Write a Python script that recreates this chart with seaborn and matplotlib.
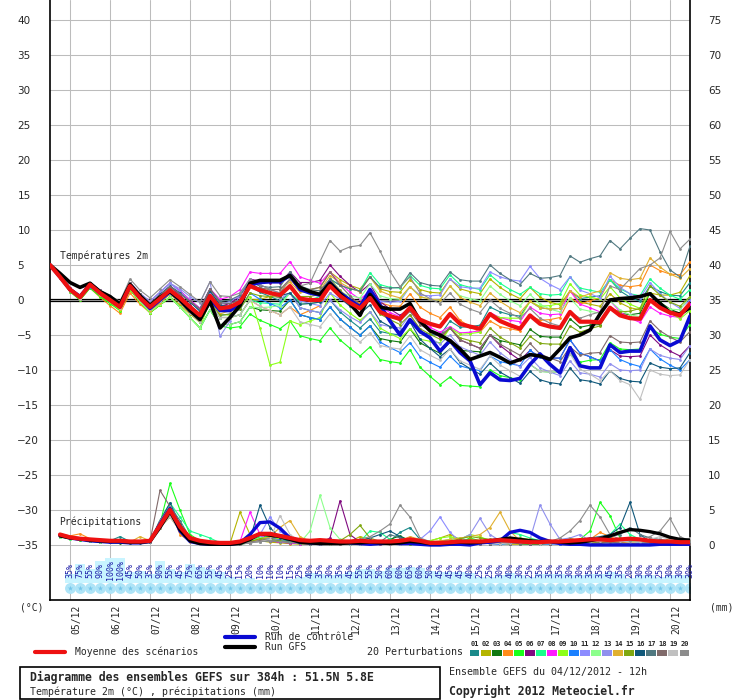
import numpy as np
import pandas as pd
import matplotlib
matplotlib.use('Agg')
import matplotlib.pyplot as plt
import matplotlib.transforms as mtrans
from matplotlib.lines import Line2D
from matplotlib.patches import Rectangle
import seaborn as sns

# ---- donnees lues sur le diagramme GEFS (pas de 6h, depart 04/12 12h) ----
temp_hours = list(range(0, 385, 6))
precip_hours = list(range(6, 385, 6))
pct_hours = list(range(12, 385, 6))
day_hours = list(range(12, 373, 24))
date_labels = ['05/12', '06/12', '07/12', '08/12', '09/12', '10/12', '11/12', '12/12',
               '13/12', '14/12', '15/12', '16/12', '17/12', '18/12', '19/12', '20/12']

mean_temp = [5.0, 3.3, 1.5, 0.4, 2.2, 1.0, 0.0, -1.0, 2.0, 0.3, -1.0, 0.2, 1.4, 0.3, -1.0, -2.2,
             0.6, -1.2, -1.0, -0.3, 2.0, 1.4, 1.0, 0.7, 2.0, 0.2, 0.0, 0.0, 2.0, 0.6, -0.4, -1.2,
             0.3, -1.7, -2.3, -2.7, -1.1, -2.8, -3.4, -3.8, -2.0, -3.4, -3.8, -4.1, -2.0, -3.0, -3.6, -4.1,
             -2.2, -3.4, -3.8, -4.0, -1.7, -3.1, -3.1, -3.2, -1.1, -2.2, -2.6, -2.7, 0.0, -1.1, -1.8, -2.2, -0.5]
control_temp = [5.0, 3.3, 1.5, 0.5, 2.2, 1.0, 0.0, -1.0, 2.0, 0.3, -1.2, 0.0, 1.2, 0.0, -1.5, -2.6,
                0.2, -1.5, -1.5, -0.5, 2.2, 2.5, 2.6, 2.6, 3.5, 1.5, 1.0, 0.7, 2.5, 1.0, 0.0, -1.0,
                1.5, -0.7, -3.0, -5.0, -2.8, -4.5, -5.4, -7.3, -5.8, -7.5, -8.7, -12.1, -10.4, -11.4, -11.5, -11.2,
                -9.2, -7.7, -9.2, -10.4, -6.8, -9.4, -9.7, -9.7, -6.4, -7.5, -7.3, -7.3, -3.7, -5.7, -6.5, -5.8, -2.3]
gfs_temp = [5.0, 3.8, 2.5, 1.8, 2.4, 1.2, 0.5, -0.6, 2.2, 0.6, -0.8, 0.4, 1.2, 0.0, -1.5, -2.8,
            -0.2, -4.0, -2.5, -0.8, 2.4, 2.8, 2.8, 2.8, 3.5, 1.8, 1.2, 0.8, 2.4, 0.9, -0.5, -2.2,
            0.8, -1.0, -1.3, -1.3, -0.5, -3.0, -4.4, -5.0, -5.8, -7.0, -8.5, -8.0, -7.5, -8.2, -9.0, -8.5,
            -7.8, -8.0, -8.5, -7.0, -5.4, -5.0, -4.3, -2.0, 0.0, 0.2, 0.3, 0.5, 0.9, -0.5, -1.8, -2.0, -1.1]

m01 = [5.0, 3.3, 1.5, 0.4, 2.2, 1.1, 0.3, -0.6, 2.5, 0.9, -0.2, 1.1, 2.4, 1.3, 0.0, -1.2, 1.6, -0.4, -0.5, 0.0, 2.0, 1.1, 0.5, -0.1, 1.0, -1.1, -1.5, -1.8, 0.0, -1.7, -2.9, -4.0, -2.7, -4.5, -4.8, -5.0, -3.1, -4.6, -4.9, -5.1, -3.0, -3.9, -3.8, -3.6, -1.0, -1.7, -2.1, -2.3, -0.2, -1.1, -1.3, -1.2, 1.3, 0.2, 0.4, 0.6, 2.9, 1.3, 0.4, -0.2, 2.0, 1.2, 0.7, 0.6, 2.5]
m02 = [5.0, 3.2, 1.3, 0.2, 1.9, 0.6, -0.4, -1.5, 1.5, -0.3, -1.8, -0.7, 0.4, -0.7, -2.0, -3.2, -0.4, -2.5, -2.5, -2.1, 0.0, 0.1, 0.5, 1.0, 3.0, 1.5, 1.5, 1.8, 4.0, 2.9, 2.1, 1.6, 3.3, 1.6, 1.2, 1.1, 2.9, 1.5, 1.1, 1.0, 3.0, 1.6, 1.2, 0.9, 3.0, 1.8, 0.9, 0.2, 1.8, 0.4, -0.3, -0.7, 1.3, -0.3, -0.6, -0.9, 0.9, -0.4, -1.1, -1.4, 1.0, 0.7, 0.7, 1.1, 3.5]
m03 = [5.0, 3.4, 1.6, 0.6, 2.4, 1.0, -0.2, -1.3, 1.5, -0.3, -1.8, -0.7, 0.4, -1.0, -2.5, -4.0, -1.4, -3.5, -3.5, -3.1, -1.0, -1.4, -1.5, -1.6, 0.0, -2.1, -2.5, -2.8, -1.0, -2.7, -3.9, -5.0, -3.7, -5.5, -5.8, -6.0, -4.1, -6.1, -6.9, -7.6, -6.0, -7.2, -7.3, -7.4, -5.0, -5.8, -6.1, -6.4, -4.2, -5.2, -5.3, -5.3, -2.7, -3.9, -3.6, -3.5, -1.1, -1.9, -2.1, -1.9, 1.0, -0.3, -1.3, -1.9, -0.5]
m04 = [5.0, 3.2, 1.2, 0.0, 1.7, 0.4, -0.8, -1.9, 1.0, -0.6, -1.8, -0.4, 0.9, -0.3, -1.8, -3.1, -0.4, -2.5, -2.5, -2.1, 0.0, -0.9, -1.5, -2.1, -1.0, -2.1, -1.5, -0.8, 2.0, 0.9, 0.1, -0.4, 1.3, -0.4, -0.8, -0.9, 0.9, -1.0, -1.9, -2.5, -1.0, -2.9, -3.8, -4.6, -3.0, -3.8, -4.1, -4.4, -2.2, -2.9, -2.8, -2.5, 0.3, -0.6, -0.1, 0.3, 2.9, 2.1, 1.9, 2.1, 5.0, 4.2, 3.7, 3.6, 5.5]
m05 = [5.0, 3.2, 1.2, 0.0, 1.7, 0.5, -0.5, -1.5, 1.5, -0.3, -1.8, -0.7, 0.4, -1.0, -2.5, -4.0, -1.4, -3.7, -4.0, -3.8, -2.0, -2.9, -3.5, -4.1, -3.0, -5.1, -5.5, -5.8, -4.0, -5.7, -6.9, -8.0, -6.7, -8.5, -8.8, -9.0, -7.1, -9.6, -10.9, -12.1, -11.0, -12.2, -12.3, -12.4, -10.0, -10.8, -11.1, -11.4, -9.2, -10.2, -10.3, -10.3, -7.7, -8.9, -8.6, -8.5, -6.1, -7.0, -7.1, -7.0, -4.0, -4.9, -5.3, -5.5, -3.5]
m06 = [5.0, 3.4, 1.7, 0.6, 2.5, 1.4, 0.4, -0.5, 2.5, 0.8, -0.5, 0.7, 1.9, 0.7, -0.7, -2.1, 0.6, -0.9, -0.5, 0.5, 3.0, 2.7, 2.5, 2.5, 4.0, 2.5, 2.5, 2.8, 5.0, 3.4, 2.1, 1.1, 2.3, -0.2, -1.3, -2.2, -1.1, -3.3, -4.4, -5.3, -4.0, -5.7, -6.3, -6.9, -5.0, -6.5, -7.6, -8.6, -7.2, -8.2, -8.3, -8.3, -5.7, -7.6, -8.1, -8.7, -7.1, -8.0, -8.1, -8.0, -5.0, -6.4, -7.3, -8.0, -6.5]
m07 = [5.0, 3.3, 1.5, 0.4, 2.2, 1.0, 0.0, -1.0, 2.0, 0.3, -1.0, 0.2, 1.4, 0.0, -1.5, -3.0, -0.4, -2.5, -2.5, -2.1, 0.0, -0.4, -0.5, -0.6, 1.0, -0.3, 0.0, 0.5, 3.0, 2.1, 1.6, 1.3, 3.9, 2.2, 1.8, 1.7, 3.5, 2.1, 1.7, 1.6, 3.6, 2.2, 1.8, 1.5, 3.6, 2.4, 1.5, 0.8, 1.8, 0.9, 0.7, 0.8, 3.3, 1.7, 1.4, 1.1, 2.9, 1.6, 0.9, 0.6, 3.0, 1.7, 0.7, 0.1, 1.5]
m08 = [5.0, 3.4, 1.7, 0.6, 2.5, 1.4, 0.4, -0.5, 2.5, 0.9, -0.2, 1.1, 2.4, 1.3, 0.0, -1.2, 1.6, 0.1, 0.5, 1.5, 4.0, 3.8, 3.8, 3.8, 5.5, 3.3, 2.8, 2.4, 4.0, 2.4, 1.1, 0.1, 1.3, -0.9, -1.8, -2.4, -1.1, -3.1, -3.9, -4.6, -3.8, -4.7, -4.6, -4.4, -1.8, -2.5, -2.9, -3.1, -1.0, -1.9, -2.1, -2.0, 1.3, -0.6, -1.1, -1.7, -0.1, -1.7, -2.6, -3.2, -1.0, -1.9, -2.3, -2.5, -0.5]
m09 = [5.0, 3.3, 1.5, 0.4, 2.2, 0.9, -0.3, -1.4, 1.5, -0.3, -1.8, -0.7, 0.4, -1.0, -2.5, -4.0, 0.0, -2.0, -2.2, -1.0, 0.5, -4.0, -9.3, -8.9, -3.0, -3.5, -3.0, -2.5, 1.0, -0.7, -1.9, -2.9, -1.7, -4.0, -4.8, -5.5, -4.1, -5.6, -5.9, -6.1, -4.0, -4.9, -4.8, -4.6, -2.0, -2.5, -2.6, -2.6, -0.2, -0.9, -0.8, -0.5, 2.3, 0.7, 0.4, 0.1, 1.9, 0.3, -0.6, -1.2, 1.0, -0.6, -1.8, -2.7, -1.5]
m10 = [5.0, 3.2, 1.3, 0.2, 1.9, 0.8, -0.2, -1.1, 2.0, 0.2, -1.3, -0.2, 0.9, -0.3, -1.8, -3.1, -0.4, -2.2, -2.0, -1.3, 1.0, 0.1, -0.5, -1.1, 0.0, -2.1, -2.5, -2.8, -1.0, -2.7, -3.9, -5.0, -3.7, -6.0, -6.8, -7.5, -6.1, -8.1, -8.9, -9.6, -8.0, -9.4, -9.8, -10.1, -8.0, -8.8, -9.1, -9.4, -7.2, -8.2, -8.3, -8.3, -5.7, -7.6, -8.1, -8.7, -7.1, -8.5, -9.1, -9.5, -7.0, -8.4, -9.3, -10.0, -8.5]
m11 = [5.0, 3.3, 1.5, 0.4, 2.2, 1.1, 0.3, -0.6, 2.5, 0.9, -0.2, 1.1, 2.4, 1.2, -0.2, -1.6, 1.1, -0.6, -0.2, 0.6, 3.0, 2.2, 1.5, 1.0, 2.0, -0.1, -0.5, -0.8, 1.0, 0.1, -0.4, -0.7, 1.3, -0.2, -0.3, -0.2, 1.9, 0.7, 0.6, 0.7, 3.0, 1.9, 1.7, 1.7, 4.0, 3.3, 2.9, 2.7, 4.8, 3.1, 2.2, 1.5, 3.3, 1.4, 0.9, 0.3, 3.4, 1.8, 0.9, 0.3, 2.5, 0.9, -0.3, -1.2, 0.0]
m12 = [5.0, 3.3, 1.5, 0.4, 2.2, 0.9, -0.2, -1.2, 1.7, -0.2, -1.7, -0.6, 0.4, -1.0, -2.5, -4.0, -1.4, -3.5, -3.5, -3.1, -1.0, -1.1, -1.0, -0.8, 1.0, -0.6, -0.5, -0.3, 2.0, 1.1, 0.6, 0.3, 2.3, 0.6, 0.2, 0.1, 1.9, 0.5, 0.1, 0.0, 2.0, 0.6, 0.2, -0.1, 2.0, 0.8, -0.1, -0.8, 0.8, -0.6, -1.3, -1.7, 0.3, -1.3, -1.6, -1.9, -0.1, -1.4, -2.1, -2.4, 0.0, -0.8, -1.3, -1.4, 0.5]
m13 = [5.0, 3.4, 1.6, 0.6, 2.4, 1.3, 0.4, -0.6, 2.5, 0.9, -0.2, 1.1, 2.4, 1.6, 0.5, -0.4, 2.6, -5.2, -3.0, 1.0, 3.0, 1.9, 1.0, 0.2, 1.0, -1.1, -1.5, -1.8, 0.0, -1.4, -2.4, -3.2, -1.7, -3.5, -3.8, -4.0, -2.1, -4.3, -5.4, -6.3, -5.0, -6.7, -7.3, -7.9, -6.0, -7.5, -8.6, -9.6, -8.2, -9.7, -10.3, -10.8, -8.7, -10.4, -10.6, -11.0, -9.1, -10.0, -10.1, -10.0, -7.0, -7.9, -8.3, -8.5, -6.5]
m14 = [5.0, 3.2, 1.3, 0.2, 2.0, 0.7, -0.2, -1.3, 1.7, 0.0, -1.5, -0.4, 0.8, -0.4, -1.7, -2.9, -0.4, -2.0, -1.5, -0.6, 2.0, 1.7, 1.5, 1.5, 2.6, 1.1, 1.2, 1.4, 3.5, 2.5, 1.7, 1.2, 3.3, 1.3, 0.7, 0.3, 1.9, 0.5, 0.1, 0.0, 2.0, 0.4, -0.3, -0.8, 1.0, -0.2, -1.1, -1.8, -0.2, -1.1, -1.3, -1.2, 1.3, 0.4, 0.9, 1.3, 3.9, 3.1, 2.9, 3.1, 6.0, 4.7, 3.7, 3.1, 4.5]
m15 = [5.0, 3.3, 1.5, 0.4, 2.2, 1.0, 0.0, -1.0, 2.0, 0.2, -1.3, -0.2, 0.9, -0.3, -1.8, -3.1, -0.4, -2.2, -2.0, -1.3, 1.0, 0.6, 0.5, 0.4, 2.0, 0.5, 0.5, 0.8, 3.0, 1.4, 0.1, -0.9, 0.3, -2.0, -2.8, -3.5, -2.1, -4.1, -4.9, -5.6, -4.0, -5.4, -5.8, -6.1, -4.0, -5.3, -6.1, -6.9, -5.2, -6.2, -6.3, -6.3, -3.7, -4.6, -4.1, -3.7, -1.1, -1.7, -1.6, -1.2, 2.0, 0.7, -0.3, -0.9, 0.5]
m16 = [5.0, 3.3, 1.5, 0.4, 2.3, 1.2, 0.2, -0.8, 2.3, 0.6, -0.6, 0.8, 2.0, 1.0, -0.3, -1.6, 1.3, -0.7, -0.9, -0.4, 2.4, 1.6, 1.2, 0.6, 1.0, -0.6, -0.5, -0.3, 2.0, 0.3, -0.9, -2.0, -0.7, -3.0, -3.8, -4.5, -3.1, -5.6, -6.9, -8.1, -7.0, -8.9, -9.8, -10.6, -9.0, -10.3, -11.1, -11.9, -10.2, -11.4, -11.8, -12.0, -9.7, -11.4, -11.6, -12.0, -10.1, -11.2, -11.6, -11.7, -9.0, -9.6, -9.8, -9.7, -7.5]
m17 = [5.0, 3.4, 1.7, 0.6, 2.5, 1.4, 0.4, -0.5, 2.5, 0.8, -0.5, 0.7, 1.9, 0.9, -0.2, -1.3, 1.6, -0.2, 0.0, 0.7, 2.6, 2.0, 1.8, 1.9, 4.0, 2.0, 1.5, 1.3, 3.0, 2.1, 1.6, 1.3, 3.3, 1.8, 1.7, 1.8, 3.9, 2.5, 2.1, 2.0, 4.0, 2.9, 2.7, 2.7, 5.0, 3.8, 2.9, 2.2, 3.8, 3.1, 3.2, 3.5, 6.3, 5.4, 5.9, 6.3, 8.5, 7.3, 8.8, 10.2, 10.0, 6.9, 4.3, 3.3, 7.7]
m18 = [5.0, 3.3, 1.5, 0.4, 2.2, 1.1, 0.3, -0.6, 2.5, 0.8, -0.5, 0.7, 1.9, 0.9, -0.2, -1.3, 1.6, -0.4, -0.5, 0.0, 2.0, 1.7, 1.5, 1.5, 3.0, 1.5, 1.5, 1.8, 4.0, 2.1, 0.6, -0.7, 0.8, -1.5, -2.2, -3.0, -1.6, -3.5, -4.4, -5.0, -4.0, -5.7, -6.3, -6.9, -5.0, -6.3, -7.1, -7.9, -6.2, -7.7, -8.3, -8.8, -6.7, -7.9, -7.6, -7.5, -5.1, -6.0, -6.1, -6.0, -3.0, -4.4, -5.3, -6.0, -4.5]
m19 = [5.0, 3.2, 1.4, 0.2, 2.0, 0.8, -0.1, -1.1, 2.0, 0.2, -1.3, -0.2, 0.9, -0.3, -1.8, -3.1, -0.4, -2.5, -2.5, -2.1, 0.0, -0.9, -1.5, -2.1, -1.0, -3.1, -3.5, -3.8, -2.0, -3.7, -4.9, -6.0, -4.7, -6.5, -6.8, -7.0, -5.1, -7.1, -7.9, -8.6, -7.0, -8.7, -9.3, -9.9, -8.0, -9.3, -10.1, -10.9, -9.2, -10.2, -10.3, -10.3, -7.7, -9.9, -10.6, -11.5, -10.1, -11.5, -12.1, -14.2, -10.0, -10.6, -10.8, -10.7, -8.5]
m20 = [5.0, 3.4, 1.6, 0.6, 2.4, 1.4, 0.6, -0.2, 3.0, 1.4, 0.3, 1.6, 2.9, 1.9, 0.8, -0.3, 2.6, 0.6, 0.5, 1.0, 3.0, 2.2, 1.5, 1.0, 3.0, 2.0, 2.4, 5.5, 8.5, 7.0, 7.6, 7.8, 9.6, 7.0, 4.1, 1.9, 3.3, 1.0, 0.2, -0.5, 1.0, -0.6, -1.3, -1.8, 0.0, -1.2, -1.9, -2.6, -1.2, -2.6, -3.3, -3.7, -1.7, -2.6, -2.1, -1.7, 2.0, 1.5, 3.0, 4.5, 5.0, 6.0, 9.8, 7.3, 8.7]

# precipitations (mm), de 6h a 384h
mean_precip = [1.5, 1.1, 0.9, 0.8, 0.7, 0.6, 0.6, 0.5, 0.5, 0.6, 2.8, 5.0, 2.6, 1.0, 0.6, 0.4, 0.3, 0.3,
               0.5, 1.0, 1.6, 1.6, 1.3, 1.0, 0.7, 0.6, 0.7, 0.6, 0.5, 0.5, 0.6, 0.5, 0.5, 0.5, 0.6, 0.8,
               0.6, 0.3, 0.3, 0.4, 0.5, 0.5, 0.5, 0.6, 0.7, 0.6, 0.5, 0.4, 0.4, 0.5, 0.5, 0.6, 0.7, 0.8,
               0.8, 0.7, 0.8, 0.9, 0.8, 0.6, 0.5, 0.5, 0.4, 0.4]
control_precip = [1.4, 1.0, 0.8, 0.6, 0.5, 0.4, 0.4, 0.3, 0.3, 0.5, 3.0, 5.2, 2.0, 0.5, 0.2, 0.1, 0.1, 0.1,
                  0.3, 1.5, 3.2, 3.3, 2.4, 1.0, 0.4, 0.3, 0.2, 0.3, 0.4, 0.3, 0.2, 0.1, 0.2, 0.3, 0.2, 0.2,
                  0.1, 0.0, 0.0, 0.1, 0.1, 0.0, 0.3, 0.4, 0.6, 1.8, 2.1, 1.8, 1.0, 0.5, 0.2, 0.1, 0.1, 0.0,
                  0.0, 0.0, 0.0, 0.0, 0.0, 0.0, 0.1, 0.1, 0.1, 0.1]
gfs_precip = [1.3, 1.0, 0.9, 0.7, 0.6, 0.5, 0.5, 0.4, 0.4, 0.5, 2.5, 4.8, 2.2, 0.6, 0.2, 0.1, 0.1, 0.1,
              0.2, 0.8, 1.6, 1.4, 1.2, 0.8, 0.4, 0.3, 0.2, 0.2, 0.2, 0.3, 0.3, 0.4, 0.3, 0.2, 0.3, 0.5,
              0.4, 0.2, 0.2, 0.3, 0.4, 0.3, 0.4, 0.6, 0.8, 1.0, 0.8, 0.6, 0.5, 0.5, 0.4, 0.3, 0.4, 0.6,
              0.9, 1.3, 1.8, 2.2, 2.1, 1.9, 1.6, 1.1, 0.8, 0.7]

p01 = [1.4, 1.0, 0.9, 0.8, 0.7, 0.6, 1.2, 0.5, 0.4, 0.5, 3.5, 5.5, 2.5, 0.8, 0.4, 0.2, 0.1, 0.1, 0.3, 0.8, 1.5, 1.2, 0.8, 0.5, 0.3, 0.2, 0.2, 0.3, 0.2, 0.4, 0.3, 0.2, 0.4, 0.6, 1.8, 2.5, 0.8, 0.3, 0.2, 0.2, 0.3, 0.5, 0.6, 0.4, 0.3, 0.2, 0.4, 0.6, 0.5, 0.3, 0.2, 0.2, 0.4, 0.8, 1.0, 0.6, 0.4, 0.3, 0.5, 0.6, 0.4, 0.3, 0.2, 0.2]
p02 = [1.2, 0.9, 0.8, 0.6, 0.5, 0.4, 0.4, 0.3, 0.6, 0.4, 2.5, 4.5, 2.0, 0.6, 0.3, 0.2, 0.1, 0.2, 4.7, 1.5, 0.6, 0.4, 0.3, 0.2, 0.1, 0.1, 0.2, 0.3, 0.4, 0.5, 1.2, 0.8, 0.3, 0.2, 0.1, 0.1, 0.2, 0.6, 1.0, 1.5, 0.8, 0.4, 0.3, 0.2, 0.2, 0.1, 0.1, 0.2, 0.3, 0.2, 0.6, 1.0, 0.5, 0.3, 0.2, 0.4, 0.8, 0.6, 0.4, 0.3, 0.2, 1.0, 0.6, 0.4]
p03 = [1.5, 1.1, 0.7, 0.6, 0.5, 0.4, 0.3, 0.3, 0.3, 0.4, 3.0, 4.0, 3.0, 1.2, 0.5, 0.2, 0.1, 0.1, 0.1, 0.3, 1.0, 1.5, 1.0, 0.6, 0.3, 0.2, 0.2, 0.1, 0.2, 0.1, 0.1, 0.2, 0.3, 0.8, 1.3, 0.6, 0.3, 0.1, 0.1, 0.2, 0.4, 0.3, 0.2, 0.5, 0.7, 0.4, 0.2, 0.1, 0.1, 0.2, 0.3, 0.6, 0.4, 1.0, 0.5, 0.3, 0.2, 0.2, 0.1, 0.1, 0.3, 0.2, 0.1, 0.1]
p04 = [1.6, 1.3, 1.6, 0.9, 0.6, 0.5, 0.4, 0.4, 0.5, 0.6, 3.5, 5.0, 1.5, 0.5, 0.3, 0.2, 0.1, 0.1, 0.2, 0.4, 0.6, 1.0, 0.8, 0.5, 0.3, 0.2, 0.2, 0.3, 0.2, 0.1, 0.4, 0.3, 0.2, 0.2, 0.4, 0.3, 0.2, 0.2, 0.3, 0.4, 0.6, 0.8, 0.5, 0.3, 0.2, 0.5, 0.6, 0.3, 0.2, 0.2, 0.3, 0.5, 0.6, 0.8, 1.8, 1.2, 0.6, 0.3, 0.2, 0.3, 0.4, 0.3, 0.2, 0.2]
p05 = [1.3, 1.0, 0.7, 0.6, 0.5, 0.4, 0.4, 0.4, 0.4, 0.5, 3.0, 8.8, 5.0, 1.5, 0.6, 0.3, 0.1, 0.1, 0.2, 0.5, 1.2, 1.0, 0.6, 0.4, 0.2, 0.2, 0.3, 0.4, 0.3, 0.2, 0.2, 0.4, 0.5, 0.3, 0.3, 0.2, 0.1, 0.2, 0.3, 0.2, 0.4, 1.0, 0.6, 0.3, 0.2, 0.3, 0.2, 0.1, 0.2, 0.3, 0.4, 0.5, 0.8, 2.0, 6.1, 4.2, 1.0, 0.5, 0.4, 0.3, 0.2, 0.3, 0.2, 0.2]
p06 = [1.3, 1.0, 0.8, 0.7, 0.6, 0.5, 0.5, 0.4, 0.4, 0.5, 3.0, 5.0, 2.0, 0.7, 0.3, 0.2, 0.1, 0.1, 0.2, 0.3, 0.8, 0.6, 0.4, 0.3, 0.2, 0.2, 0.3, 1.0, 6.3, 1.5, 0.4, 0.3, 0.2, 0.3, 0.4, 0.3, 0.2, 0.2, 0.2, 0.3, 0.2, 0.4, 0.3, 0.2, 0.2, 0.3, 0.2, 0.2, 0.3, 0.2, 0.2, 0.4, 0.3, 0.6, 0.4, 0.3, 0.5, 0.4, 0.3, 0.2, 0.3, 0.4, 0.3, 0.2]
p07 = [1.2, 0.9, 0.8, 0.7, 0.6, 0.5, 0.5, 0.4, 0.4, 0.5, 3.5, 6.0, 4.0, 2.0, 1.5, 1.0, 0.3, 0.2, 0.3, 0.5, 0.8, 1.5, 1.2, 0.8, 0.5, 0.3, 0.2, 0.2, 0.3, 0.4, 0.5, 2.0, 1.8, 0.8, 0.4, 0.3, 0.2, 0.3, 0.5, 0.8, 1.0, 0.6, 0.5, 0.4, 0.3, 1.8, 1.5, 1.0, 0.6, 0.4, 0.3, 0.5, 0.8, 0.6, 0.4, 1.5, 3.0, 1.5, 0.8, 0.5, 0.4, 0.3, 0.2, 0.2]
p08 = [1.3, 1.0, 0.8, 0.7, 0.6, 0.5, 0.4, 0.4, 0.4, 0.5, 2.8, 4.8, 2.2, 0.8, 0.3, 0.2, 0.1, 0.2, 0.5, 4.7, 1.5, 0.6, 0.4, 0.3, 0.2, 0.2, 0.3, 0.3, 0.4, 0.3, 0.2, 0.2, 0.3, 0.3, 0.4, 0.5, 0.3, 0.2, 0.2, 0.3, 0.4, 0.3, 0.2, 0.3, 0.4, 0.3, 0.2, 0.3, 0.4, 0.3, 0.5, 0.6, 0.8, 1.0, 0.6, 0.4, 0.3, 0.2, 0.3, 0.4, 0.3, 0.2, 0.2, 0.1]
p09 = [1.4, 1.1, 0.9, 0.7, 0.6, 0.5, 0.5, 0.5, 0.5, 0.6, 3.2, 5.2, 2.5, 1.0, 0.4, 0.3, 0.2, 0.2, 0.4, 0.6, 0.9, 1.2, 0.8, 0.5, 0.3, 0.2, 0.2, 0.3, 0.4, 0.3, 0.2, 0.3, 0.5, 0.4, 0.3, 0.2, 0.4, 0.6, 1.0, 1.2, 0.8, 1.5, 1.2, 0.6, 0.4, 0.3, 0.2, 0.3, 0.4, 0.3, 0.3, 0.4, 0.6, 0.5, 0.4, 0.3, 0.4, 0.5, 0.4, 0.3, 0.3, 0.2, 0.2, 0.2]
p10 = [1.3, 1.0, 0.8, 0.7, 0.6, 0.5, 0.5, 0.4, 0.4, 0.5, 3.0, 5.0, 2.8, 0.9, 0.3, 0.2, 0.1, 0.1, 0.2, 0.4, 0.8, 1.0, 0.7, 0.4, 0.3, 0.2, 0.2, 0.2, 0.3, 0.2, 0.2, 0.3, 0.4, 0.3, 0.2, 0.3, 0.2, 0.1, 0.1, 0.2, 0.1, 0.2, 0.3, 0.2, 0.1, 0.2, 0.3, 0.2, 0.2, 0.1, 0.2, 0.3, 0.2, 0.5, 0.6, 0.8, 0.5, 0.3, 0.2, 0.1, 0.1, 0.2, 0.1, 0.1]
p11 = [1.3, 1.0, 0.8, 0.7, 0.6, 0.5, 0.5, 0.4, 0.4, 0.5, 2.6, 4.5, 2.5, 0.9, 0.3, 0.2, 0.1, 0.2, 0.3, 0.5, 1.5, 4.0, 2.0, 0.8, 0.4, 0.3, 0.2, 0.3, 0.2, 0.3, 0.4, 0.3, 0.3, 0.2, 0.3, 0.5, 0.8, 2.0, 4.0, 1.8, 0.5, 0.4, 0.6, 0.8, 0.6, 0.4, 0.3, 0.2, 0.3, 0.4, 0.5, 0.4, 0.3, 0.2, 0.3, 0.5, 0.6, 0.4, 0.3, 0.2, 0.2, 0.3, 0.2, 0.2]
p12 = [1.2, 1.0, 0.8, 0.6, 0.5, 0.5, 0.4, 0.4, 0.4, 0.5, 2.8, 5.5, 2.5, 0.8, 0.3, 0.2, 0.2, 0.2, 0.3, 0.6, 1.0, 0.8, 0.5, 0.4, 0.3, 2.0, 7.1, 2.5, 0.8, 0.5, 0.4, 0.3, 0.4, 0.5, 0.4, 0.3, 0.2, 0.3, 0.4, 0.5, 0.6, 0.4, 0.3, 0.3, 0.4, 0.6, 0.5, 0.4, 0.3, 0.4, 0.5, 0.6, 0.4, 0.3, 0.5, 0.6, 0.4, 0.3, 0.3, 0.4, 0.3, 0.2, 0.2, 0.3]
p13 = [1.3, 1.0, 0.8, 0.7, 0.6, 0.5, 0.5, 0.4, 0.4, 0.5, 3.0, 5.5, 2.8, 0.8, 0.3, 0.2, 0.1, 0.1, 0.2, 0.4, 0.8, 1.0, 0.6, 0.4, 0.3, 0.2, 0.2, 0.3, 0.3, 0.4, 0.3, 0.2, 0.3, 0.4, 0.3, 0.4, 0.5, 0.4, 0.3, 0.4, 0.8, 1.5, 3.8, 1.5, 0.6, 0.4, 0.5, 0.8, 5.7, 3.0, 0.8, 1.0, 1.5, 0.6, 0.4, 0.3, 0.3, 0.2, 0.3, 0.4, 0.3, 0.2, 0.3, 0.2]
p14 = [1.3, 1.1, 0.9, 0.8, 0.6, 0.5, 0.5, 0.4, 1.2, 0.6, 2.5, 4.0, 2.0, 0.8, 0.3, 0.2, 0.1, 0.2, 0.3, 0.5, 0.8, 1.2, 2.5, 3.5, 1.2, 0.5, 0.3, 0.2, 0.3, 0.4, 0.5, 0.4, 0.3, 0.5, 0.6, 1.2, 0.8, 0.5, 0.6, 0.8, 1.0, 1.2, 1.5, 2.5, 4.7, 2.0, 0.6, 0.4, 0.3, 0.4, 0.5, 0.6, 0.5, 0.4, 0.6, 0.5, 0.4, 0.3, 0.6, 0.8, 0.5, 0.4, 0.3, 0.6]
p15 = [1.3, 1.0, 0.8, 0.7, 0.6, 0.5, 0.5, 0.4, 0.4, 0.5, 3.0, 5.0, 2.5, 0.8, 0.3, 0.2, 0.1, 0.1, 0.3, 0.5, 0.9, 0.8, 0.6, 0.4, 0.3, 0.2, 0.3, 0.4, 0.6, 1.5, 2.8, 1.0, 0.5, 0.4, 0.3, 0.2, 0.3, 0.2, 0.3, 0.5, 0.9, 1.2, 1.0, 0.8, 0.6, 0.5, 1.0, 0.8, 0.5, 0.4, 0.6, 0.8, 0.6, 0.4, 0.3, 0.5, 0.8, 0.6, 0.5, 0.4, 0.3, 0.3, 0.2, 0.2]
p16 = [1.3, 1.0, 0.8, 0.7, 0.6, 0.5, 0.5, 0.4, 0.4, 0.5, 3.5, 6.0, 3.0, 0.8, 0.3, 0.2, 0.1, 0.2, 0.4, 0.8, 5.7, 2.5, 1.0, 0.5, 0.3, 0.2, 0.2, 0.3, 0.3, 0.4, 0.6, 1.0, 1.5, 2.0, 1.2, 0.5, 0.3, 0.2, 0.3, 0.2, 0.3, 0.4, 0.3, 0.2, 0.3, 0.4, 0.3, 0.2, 0.3, 0.4, 0.5, 0.6, 0.8, 1.0, 1.2, 1.5, 2.5, 6.1, 1.5, 0.5, 0.3, 0.2, 0.2, 0.2]
p17 = [1.3, 1.0, 0.8, 0.7, 0.6, 0.5, 0.5, 0.4, 0.4, 0.5, 3.2, 5.5, 3.5, 1.0, 0.4, 0.2, 0.1, 0.1, 0.2, 0.3, 0.5, 0.6, 0.5, 0.4, 0.3, 0.2, 0.2, 0.3, 0.4, 0.3, 0.2, 0.3, 0.4, 1.5, 1.0, 0.6, 0.4, 0.3, 0.2, 0.3, 0.4, 0.3, 0.2, 0.3, 0.4, 0.3, 0.2, 0.2, 0.3, 0.4, 0.3, 0.4, 0.5, 0.6, 0.8, 1.2, 1.5, 2.5, 1.5, 1.0, 0.8, 0.6, 0.4, 0.3]
p18 = [1.4, 1.1, 0.8, 0.7, 0.6, 0.5, 0.5, 0.4, 0.4, 0.5, 7.8, 5.5, 2.0, 0.6, 0.3, 0.2, 0.1, 0.1, 0.2, 0.4, 0.6, 0.8, 1.5, 1.2, 0.6, 0.3, 0.2, 0.3, 0.2, 0.3, 0.4, 0.3, 0.2, 0.3, 0.4, 0.3, 0.2, 0.2, 0.3, 0.2, 0.3, 0.4, 0.3, 0.2, 0.3, 0.2, 0.3, 0.2, 0.3, 0.2, 0.3, 0.4, 0.3, 0.2, 0.3, 0.4, 0.3, 0.2, 0.2, 0.3, 0.2, 0.2, 0.1, 0.1]
p19 = [1.3, 1.0, 0.8, 0.7, 0.6, 0.5, 0.5, 0.4, 0.4, 0.5, 2.5, 4.0, 2.0, 0.6, 0.3, 0.2, 0.1, 0.1, 0.2, 0.3, 0.5, 0.8, 4.2, 1.5, 0.5, 0.3, 0.2, 0.2, 0.3, 0.2, 0.2, 0.3, 0.4, 0.3, 0.2, 0.3, 0.4, 0.3, 0.2, 0.3, 0.4, 0.5, 0.4, 0.3, 0.2, 0.3, 0.4, 0.3, 0.2, 0.3, 0.4, 0.6, 0.5, 0.4, 0.6, 0.8, 0.6, 0.4, 0.5, 0.8, 1.2, 0.8, 0.5, 1.0]
p20 = [1.3, 1.0, 0.8, 0.7, 0.6, 0.5, 0.5, 0.4, 0.4, 0.5, 3.5, 5.5, 2.5, 0.8, 0.3, 0.2, 0.1, 0.1, 0.2, 0.3, 0.5, 0.6, 0.5, 0.4, 0.3, 0.2, 0.3, 0.4, 0.5, 0.6, 0.8, 1.2, 2.0, 3.0, 5.7, 4.0, 1.0, 0.5, 0.4, 0.3, 0.4, 0.5, 0.4, 0.3, 0.4, 0.5, 0.4, 0.3, 0.4, 0.5, 1.0, 2.0, 3.5, 5.7, 4.0, 1.5, 0.8, 0.6, 0.8, 1.2, 2.0, 3.8, 1.2, 0.6]

# probabilite de precipitations (%)
rain_pct = [35, 75, 55, 90, 100, 100, 45, 50, 35, 90, 55, 45, 75, 65, 55, 45, 25, 15, 20, 10, 10,
            10, 15, 25, 40, 35, 30, 35, 45, 55, 55, 50, 60, 60, 65, 60, 50, 45, 45, 45, 40, 25,
            25, 30, 40, 30, 25, 35, 35, 35, 30, 30, 35, 35, 45, 35, 20, 30, 30, 25, 30, 30, 30]

member_ids = ['%02d' % k for k in range(1, 21)]
member_colors = ['#1a8a8a', '#b4b400', '#107810', '#ff8c1a', '#1aff1a', '#800a80', '#1aff8c',
                 '#ff1aff', '#8cff1a', '#1a80ff', '#8c8cff', '#8cff8c', '#9090ee', '#e0b030',
                 '#80a810', '#10587a', '#507880', '#806a6a', '#c0c0c0', '#8c8c8c']
members_temp = [m01, m02, m03, m04, m05, m06, m07, m08, m09, m10,
                m11, m12, m13, m14, m15, m16, m17, m18, m19, m20]
members_precip = [p01, p02, p03, p04, p05, p06, p07, p08, p09, p10,
                  p11, p12, p13, p14, p15, p16, p17, p18, p19, p20]

PRECIP_SHIFT = -35   # l'axe mm (droite) = axe °C + 35

rows_t, rows_p = [], []
for mid, tv, pv in zip(member_ids, members_temp, members_precip):
    for h, v in zip(temp_hours, tv):
        rows_t.append((mid, h, v))
    for h, v in zip(precip_hours, pv):
        rows_p.append((mid, h, v + PRECIP_SHIFT))
df_t = pd.DataFrame(rows_t, columns=['member', 'hour', 'value'])
df_p = pd.DataFrame(rows_p, columns=['member', 'hour', 'value'])
palette = dict(zip(member_ids, member_colors))

# ---- figure ----
sns.set_style('white')
plt.rcParams['font.family'] = ['DejaVu Sans']
MONO = 'DejaVu Sans Mono'
W, H = 739, 700
fig = plt.figure(figsize=(W / 100, H / 100), dpi=100)
fig.patch.set_facecolor('white')


def fx(px):
    return px / W


def fy(py):
    return 1 - py / H


ax = fig.add_axes([fx(50), fy(600), fx(690) - fx(50), fy(0) - fy(600)])
lo, hi = -300 / 7, 300 / 7
ax.set_xlim(0, 384)
ax.set_ylim(lo, hi)
ax.set_yticks(range(-35, 41, 5))
ax.set_xticks(day_hours)
ax.set_xticklabels(date_labels, rotation=90, family=MONO, fontsize=7)
ax.grid(True, color='#bcbcbc', lw=0.75)
ax.set_axisbelow(True)
for s in ['left', 'right', 'bottom']:
    ax.spines[s].set_color('black')
    ax.spines[s].set_linewidth(1.2)
ax.spines['top'].set_visible(False)
ax.tick_params(axis='y', length=0, pad=23.5, labelsize=7.5)
for lab in ax.get_yticklabels():
    lab.set_horizontalalignment('left')
ax.tick_params(axis='x', length=2.5, color='#bcbcbc', width=0.75, pad=0.5)
shift = mtrans.ScaledTranslation(6 / 100, 0, fig.dpi_scale_trans)
for lab in ax.get_xticklabels():
    lab.set_transform(lab.get_transform() + shift)

ax2 = ax.twinx()
ax2.set_ylim(lo - PRECIP_SHIFT, hi - PRECIP_SHIFT)
ax2.set_yticks(range(0, 76, 5))
ax2.tick_params(axis='y', length=0, pad=13, labelsize=7.5)
for s in ax2.spines.values():
    s.set_visible(False)

# bande des probabilites
ax.bar(pct_hours, np.array(rain_pct) * 3.5 / 100, bottom=-40.4, width=6,
       color='#c8f4ff', lw=0, zorder=1)
for h, p in zip(pct_hours, rain_pct):
    ax.text(h, -38.6, '%d%%' % p, rotation=90, ha='center', va='center',
            fontsize=6, family=MONO, color='#1c1ca8', zorder=3)
ax.scatter(pct_hours, [-41.1] * len(pct_hours), marker='o', s=62, color='#aee4f7', lw=0, zorder=2)
ax.scatter(pct_hours, [-41.1] * len(pct_hours), marker='*', s=16, color='#74c6ea', lw=0, zorder=2)

# double ligne 0°C
ax.axhline(0.15, color='black', lw=0.9, zorder=2.5)
ax.axhline(-0.2, color='black', lw=0.9, zorder=2.5)

# perturbations
for df in (df_t, df_p):
    sns.lineplot(data=df, x='hour', y='value', hue='member', palette=palette,
                 estimator=None, legend=False, sort=False, lw=0.8, marker='o',
                 markersize=2, markeredgewidth=0, ax=ax, zorder=3)

# runs principaux
sns.lineplot(x=temp_hours, y=control_temp, color='#0a0ad2', lw=2.6, ax=ax, zorder=5)
sns.lineplot(x=temp_hours, y=gfs_temp, color='black', lw=2.6, ax=ax, zorder=5)
sns.lineplot(x=temp_hours, y=mean_temp, color='#ee1111', lw=3.0, ax=ax, zorder=6)
sns.lineplot(x=precip_hours, y=np.array(control_precip) + PRECIP_SHIFT, color='#0a0ad2', lw=2.4, ax=ax, zorder=5)
sns.lineplot(x=precip_hours, y=np.array(gfs_precip) + PRECIP_SHIFT, color='black', lw=2.4, ax=ax, zorder=5)
sns.lineplot(x=precip_hours, y=np.array(mean_precip) + PRECIP_SHIFT, color='#ee1111', lw=3.0, ax=ax, zorder=6)

ax.set_xlabel('')
ax.set_ylabel('')
ax.text(6, 6.3, 'Températures 2m', family=MONO, fontsize=7, va='center', zorder=7)
ax.text(5.4, -31.7, 'Précipitations', family=MONO, fontsize=7, va='center', zorder=7)

fig.text(fx(20), fy(607), '(°C)', family=MONO, fontsize=7, va='center')
fig.text(fx(710), fy(607), '(mm)', family=MONO, fontsize=7, va='center')

# legende
fig.add_artist(Line2D([fx(35), fx(65)], [fy(652), fy(652)], color='#ee1111', lw=3))
fig.text(fx(75), fy(652), 'Moyenne des scénarios', family=MONO, fontsize=7, va='center')
fig.add_artist(Line2D([fx(225), fx(255)], [fy(637), fy(637)], color='#0a0ad2', lw=3))
fig.text(fx(265), fy(637), 'Run de contrôle', family=MONO, fontsize=7, va='center')
fig.add_artist(Line2D([fx(225), fx(255)], [fy(647), fy(647)], color='black', lw=3))
fig.text(fx(265), fy(647), 'Run GFS', family=MONO, fontsize=7, va='center')
fig.text(fx(367), fy(652), '20 Perturbations', family=MONO, fontsize=7.2, va='center')

lax = fig.add_axes([fx(469), fy(655.5), fx(690) - fx(469), 5.5 / H])
lax.bar(range(20), [1] * 20, width=0.9, color=member_colors, lw=0)
lax.set_xlim(-0.5, 19.5)
lax.set_ylim(0, 1)
lax.axis('off')
for i, mid in enumerate(member_ids):
    lax.annotate(mid, (i, 1), xytext=(0, 2.2), textcoords='offset points', ha='center',
                 va='bottom', fontsize=5, weight='bold', family=MONO)

fig.add_artist(Rectangle((fx(20), fy(699)), fx(440) - fx(20), 32 / H, fill=False,
                         ec='black', lw=1.2, transform=fig.transFigure))
fig.text(fx(30), fy(677.5), 'Diagramme des ensembles GEFS sur 384h : 51.5N 5.8E',
         family=MONO, fontsize=8.3, weight='bold', va='center')
fig.text(fx(30), fy(692), 'Température 2m (°C) , précipitations (mm)',
         family=MONO, fontsize=7.1, va='center')
fig.text(fx(449), fy(672), 'Ensemble GEFS du 04/12/2012 - 12h', family=MONO, fontsize=7.2, va='center')
fig.text(fx(449), fy(691), 'Copyright 2012 Meteociel.fr', family=MONO, fontsize=8.3,
         weight='bold', va='center')

fig.savefig('out.png', dpi=100)
